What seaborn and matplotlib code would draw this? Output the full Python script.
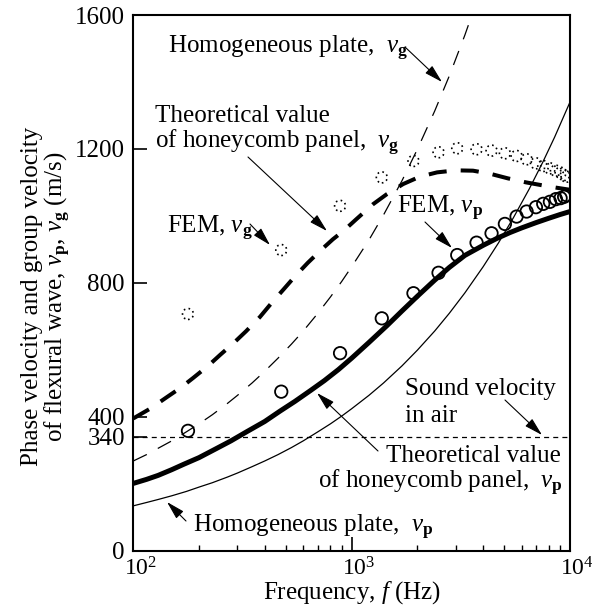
import numpy as np
import pandas as pd
import seaborn as sns
import matplotlib.pyplot as plt
import matplotlib.transforms as mtransforms
from matplotlib.ticker import LogLocator, NullFormatter

sns.set_style("ticks", {"axes.edgecolor": "black", "xtick.color": "black", "ytick.color": "black",
                        "xtick.direction": "in", "ytick.direction": "in",
                        "text.color": "black", "axes.labelcolor": "black"})
plt.rcParams['font.family'] = ['Liberation Serif', 'DejaVu Serif']
plt.rcParams['mathtext.fontset'] = 'custom'
plt.rcParams['mathtext.rm'] = 'Liberation Serif'
plt.rcParams['mathtext.it'] = 'Liberation Serif:italic'
plt.rcParams['mathtext.bf'] = 'Liberation Serif:bold'

# homogeneous plate (thin lines)
freq_hom = [100, 115, 130, 150, 175, 200, 230, 270, 300, 350, 400, 460, 530, 600, 700, 800, 900,
            1000, 1200, 1400, 1700, 2000, 2400, 2800, 3300, 4000, 4700, 5500, 6500, 7500, 8500, 10000]
vp_hom = [134, 144, 153, 164, 177, 190, 203, 220, 232, 251, 268, 287, 308, 328, 355, 379, 402,
          424, 464, 501, 552, 599, 656, 709, 770, 848, 919, 994, 1080, 1160, 1235, 1340]
freq_hom_g = [100, 115, 130, 150, 175, 200, 230, 270, 300, 350, 400, 460, 530, 600, 700, 800, 900,
              1000, 1200, 1400, 1700, 2000, 2400, 2800, 3300, 4000]
vg_hom = [268, 287, 306, 328, 355, 379, 406, 440, 464, 501, 536, 575, 617, 656, 709, 758, 804,
          848, 928, 1003, 1105, 1199, 1313, 1418, 1540, 1695]

# theoretical value of honeycomb panel (thick lines)
freq_hc_p = [100, 115, 130, 150, 170, 200, 240, 280, 330, 400, 470, 550, 650, 750, 870, 1000,
             1200, 1450, 1700, 2000, 2400, 2800, 3300, 4000, 4600, 5300, 6000, 7000, 8000, 9000, 10000]
vp_hc = [201, 213, 225, 242, 258, 278, 305, 328, 355, 386, 417, 446, 479, 508, 541, 575,
         622, 672, 716, 760, 808, 846, 882, 912, 932, 950, 964, 980, 993, 1004, 1013]
freq_hc_g = [100, 120, 142, 165, 188, 220, 250, 290, 329, 380, 430, 490, 551, 630, 724, 820, 924,
             1050, 1254, 1450, 1720, 2050, 2463, 3000, 3597, 4300, 5200, 6300, 7510, 8700, 10000]
vg_hc = [395, 425, 458, 487, 516, 552, 585, 622, 656, 698, 740, 782, 820, 860, 898, 930, 957,
         990, 1035, 1065, 1095, 1117, 1130, 1136, 1135, 1126, 1112, 1100, 1091, 1084, 1078]

# FEM results
freq_fem = [178, 476, 885, 1374, 1919, 2500, 3045, 3733, 4372, 5033, 5693, 6327, 6981,
            7540, 8090, 8618, 9055, 9400, 9640]
vp_fem = [358, 475, 590, 694, 769, 830, 883, 920, 948, 976, 998, 1013, 1026,
          1036, 1042, 1050, 1053, 1057, 1062]
vg_fem = [707, 898, 1030, 1115, 1164, 1190, 1202, 1199, 1195, 1187, 1179, 1169, 1157,
          1149, 1142, 1135, 1129, 1122, 1117]

sound_air = 340

fig = plt.figure(figsize=(6.01, 6.06), dpi=100)
ax = fig.add_axes([133.3 / 601, 55.3 / 606, 436.7 / 601, 535.7 / 606])
ax.set_xscale('log')

sns.lineplot(x=freq_hom, y=vp_hom, ax=ax, color='k', lw=0.9, sort=False, legend=False)
sns.lineplot(x=freq_hom_g, y=vg_hom, ax=ax, color='k', lw=0.9, linestyle=(0, (12, 10)),
             sort=False, legend=False)
sns.lineplot(x=freq_hc_p, y=vp_hc, ax=ax, color='k', lw=3.6, sort=False, legend=False)
sns.lineplot(x=freq_hc_g, y=vg_hc, ax=ax, color='k', lw=2.9, linestyle=(0, (4.5, 3.5)),
             sort=False, legend=False)
ax.axhline(sound_air, color='k', lw=0.9, linestyle=(0, (4, 3.3)))

sns.scatterplot(x=freq_fem, y=vp_fem, ax=ax, s=80, marker='o', color='k',
                facecolor='none', edgecolor='k', linewidth=1.3, legend=False, zorder=5)
ax.collections[-1].set_facecolor('none')
sns.scatterplot(x=freq_fem, y=vg_fem, ax=ax, s=62, marker='o', color='k',
                facecolor='none', edgecolor='k', linewidth=1.2, linestyle=(0, (1, 2)),
                legend=False, zorder=5)
ax.collections[-1].set_facecolor('none')

ax.set_xlim(100, 10000)
ax.set_ylim(0, 1600)
ax.set_yticks([0, 340, 400, 800, 1200, 1600])
ax.set_yticklabels(['0', '340', '400', '800', '1200', '1600'])
ax.xaxis.set_minor_locator(LogLocator(base=10, subs=np.arange(2, 10)))
ax.xaxis.set_minor_formatter(NullFormatter())
ax.tick_params(which='major', length=10, width=1.2, top=False, right=False, pad=5)
ax.tick_params(axis='y', labelsize=18, pad=6)
ax.tick_params(axis='x', labelsize=17)
ax.tick_params(which='minor', length=4, width=1.0, top=False, right=False)
shift = mtransforms.ScaledTranslation(7 / 100, 0, fig.dpi_scale_trans)
for lab in ax.get_xticklabels():
    lab.set_transform(lab.get_transform() + shift)
for sp in ax.spines.values():
    sp.set_linewidth(1.5)
    sp.set_visible(True)

ax.set_xlabel(r'Frequency, $\mathit{f}$ (Hz)', fontsize=18)
ax.xaxis.set_label_coords(0.5, -0.079)
ax.xaxis.label.set_va('center')
ax.set_ylabel('Phase velocity and group velocity\n'
              r'of flexural wave, $\mathit{v}_{\mathbf{p}}$, $\mathit{v}_{\mathbf{g}}$ (m/s)',
              fontsize=18, linespacing=1.0)
ax.yaxis.set_label_coords(-0.197, 0.474)
ax.yaxis.label.set_va('center')

H = 606
vp_s = r'$\mathit{v}_{\mathbf{p}}$'
vg_s = r'$\mathit{v}_{\mathbf{g}}$'
texts = [
    (168, 53, 'Homogeneous plate,  ' + vg_s),
    (155, 122, 'Theoretical value'),
    (155, 148, 'of honeycomb panel,  ' + vg_s),
    (167, 233, 'FEM, ' + vg_s),
    (397, 213, 'FEM, ' + vp_s),
    (405, 395, 'Sound velocity'),
    (405, 422, 'in air'),
    (386, 462, 'Theoretical value'),
    (318, 488, 'of honeycomb panel,  ' + vp_s),
    (193, 532, 'Homogeneous plate,  ' + vp_s),
]
for x, y, s in texts:
    fig.text(x / 601, (H - y) / H, s, fontsize=18, ha='left', va='baseline')

arrows = [
    ((405, 47), (442, 82)),
    ((248, 157), (327, 231)),
    ((250, 224), (270, 245)),
    ((425, 222), (452, 248)),
    ((505, 400), (542, 435)),
    ((378, 451), (317, 393)),
    ((186, 521), (167, 502)),
]
for (x0, y0), (x1, y1) in arrows:
    ax.annotate('', xy=(x1, H - y1), xycoords='figure pixels',
                xytext=(x0, H - y0), textcoords='figure pixels',
                arrowprops=dict(arrowstyle='-|>,head_length=0.8,head_width=0.22',
                                lw=0.8, color='k', shrinkA=0, shrinkB=0, mutation_scale=14))

fig.savefig('out.png', dpi=100)
